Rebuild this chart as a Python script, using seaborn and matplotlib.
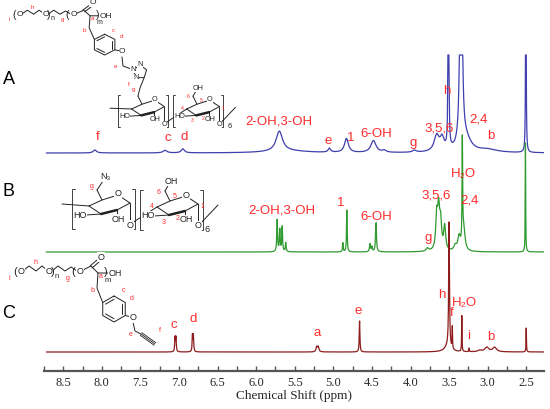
import numpy as np
import pandas as pd
import seaborn as sns
import matplotlib.pyplot as plt

# ---------------- data: peak lists ----------------
# heights are in pixel-like units above each trace's baseline, widths are Lorentzian half-widths (ppm)
A_ppm    = [8.09, 7.18, 6.95, 5.70, 5.60, 5.05, 4.83, 4.48, 4.34, 3.95, 3.66, 3.59, 3.508, 3.345, 3.28, 3.00, 2.505]
A_height = [3.0,  2.5,  4.0,  20.0, 2.0,  4.0,  14.0, 12.0, 2.0,  2.0,  16.0, 12.0, 400.0, 400.0, 12.0, 3.0,  400.0]
A_width  = [0.025,0.03, 0.025,0.05, 0.30, 0.02, 0.03, 0.04, 0.03, 0.03, 0.04, 0.03, 0.004, 0.012, 0.08, 0.15, 0.003]

B_ppm    = [5.728, 5.694, 5.663, 5.617, 4.877, 4.825, 4.525, 4.50, 4.447, 3.78, 3.66, 3.635, 3.61, 3.557, 3.42, 3.37, 3.31, 3.328, 2.51]
B_height = [32.0,  22.0,  25.0,  9.0,   9.0,   42.0,  8.0,   5.0,  29.0,  3.0,  33.0, 38.0,  26.0, 24.0,  5.0,  14.0, 22.0, 117.0, 110.0]
B_width  = [0.006, 0.006, 0.006, 0.006, 0.005, 0.005, 0.007, 0.007,0.007, 0.02, 0.015,0.015, 0.015,0.015, 0.02, 0.02, 0.02, 0.004, 0.003]

C_ppm    = [7.052, 7.040, 6.826, 6.814, 5.215, 5.195, 4.66, 3.52, 3.50, 3.458, 3.335, 3.24, 3.10, 3.01, 2.91, 2.50]
C_height = [14.0,  14.0,  16.0,  16.0,  5.0,   5.0,   31.0, 5.0,  126.0, 22.0, 36.0,  3.5,  1.5,  4.5,  4.5,  24.0]
C_width  = [0.005, 0.005, 0.005, 0.005, 0.01,  0.01,  0.005,0.05, 0.006, 0.003, 0.003, 0.003,0.03, 0.03, 0.03, 0.003]

# peak annotations: (text, ppm, level)
A_labels = [("f", 8.05, 233.7), ("c", 7.15, 232.7), ("d", 6.93, 233.7), ("2-OH,3-OH", 5.70, 250),
            ("e", 5.07, 230.3), ("1", 4.77, 232.7), ("6-OH", 4.45, 237), ("g", 3.97, 228.3),
            ("3,5,6", 3.63, 242.7), ("h", 3.535, 280.3), ("2,4", 3.12, 251), ("b", 2.96, 235)]
B_labels = [("2-OH,3-OH", 5.67, 160.3), ("1", 4.90, 167.7), ("6-OH", 4.45, 154.3), ("g", 3.77, 132.7),
            ("3,5,6", 3.67, 176), ("2,4", 3.23, 170.3), ("H₂O", 3.32, 197)]
C_labels = [("c", 7.07, 46.3), ("d", 6.82, 52.3), ("a", 5.21, 37.7), ("e", 4.68, 59.7), ("h", 3.60, 75.7),
            ("f", 3.47, 57.7), ("H₂O", 3.30, 67.7), ("i", 3.244, 35.3), ("b", 2.96, 34)]

trace_names = ["A", "B", "C"]
trace_colors = ["#3f3fae", "#2f9a2f", "#8e1c1c"]
baselines = [218, 119, 19]          # vertical offsets of the stacked traces
clip_levels = [98, 117, 200]        # traces are cut at the top as in the original

ppm = np.linspace(2.27, 8.72, 8000)

def spectrum(centers, heights, widths):
    y = np.zeros_like(ppm)
    for c, h, w in zip(centers, heights, widths):
        y += h * w**2 / ((ppm - c)**2 + w**2)
    return y

frames = []
for name, (cen, hei, wid), base, clip in zip(
        trace_names,
        [(A_ppm, A_height, A_width), (B_ppm, B_height, B_width), (C_ppm, C_height, C_width)],
        baselines, clip_levels):
    y = np.minimum(spectrum(cen, hei, wid), clip) + base
    frames.append(pd.DataFrame({"ppm": ppm, "intensity": y, "trace": name}))
df = pd.concat(frames, ignore_index=True)

# ---------------- figure ----------------
sns.set_theme(style="white")
plt.rcParams['font.family'] = ['Liberation Sans', 'DejaVu Sans']

fig = plt.figure(figsize=(5.5, 4.09), dpi=100)
ax = fig.add_axes([44/550, 38/409, 500/550, 371/409])

sns.lineplot(data=df, x="ppm", y="intensity", hue="trace", hue_order=trace_names,
             palette=trace_colors, estimator=None, sort=False, linewidth=0.9,
             legend=False, ax=ax)

ax.set_xlim(8.72, 2.27)
ax.set_ylim(0, 371)
ax.set_yticks([])
ax.set_ylabel("")

for s in ["top", "left", "right"]:
    ax.spines[s].set_visible(False)
ax.spines["bottom"].set_color("#555555")
ax.spines["bottom"].set_linewidth(1.6)

ax.set_xticks(np.arange(2.5, 8.51, 0.5))
ax.set_xticks(np.arange(2.5, 8.8, 0.25), minor=True)
ax.set_xticklabels([f"{t:.1f}" for t in np.arange(2.5, 8.51, 0.5)],
                   fontfamily="Liberation Serif", fontsize=9)
ax.tick_params(axis="x", which="both", direction="in", length=3.5, width=1.0,
               color="#555555", bottom=True, pad=4)
ax.set_xlabel("Chemical Shift (ppm)", fontfamily="Liberation Serif", fontsize=9.5, labelpad=1)

red = "#ff2a2a"
for labels in (A_labels, B_labels, C_labels):
    for txt, x, y in labels:
        ax.text(x, y, txt, color=red, fontsize=9.5, ha="center", va="center")

for name, ypx in zip(trace_names, [80, 191, 313]):
    fig.text(9/550, 1 - ypx/409, name, fontsize=13, ha="center", va="center", color="black")

# ---------------- schematic structure drawings (illustrations, pixel frame) ----------------
ov = fig.add_axes([0, 0, 1, 1], zorder=5)
ov.set_xlim(0, 550)
ov.set_ylim(409, 0)
ov.axis("off")
ov.patch.set_alpha(0)
ink = "#222222"

def P(p, org, sx, sy):
    return org[0] + sx * p[0], org[1] + sy * p[1]

def bonds(segs, org, sx, sy, lw=0.7):
    for seg in segs:
        pts = [P(p, org, sx, sy) for p in seg]
        ov.plot([q[0] for q in pts], [q[1] for q in pts], color=ink, lw=lw,
                solid_capstyle="round", solid_joinstyle="round")

def texts(items, org, sx, sy, fs, color=ink, box=True):
    for t, p in items:
        x, y = P(p, org, sx, sy)
        kw = dict(bbox=dict(fc="white", ec="none", pad=0.1)) if box else {}
        ov.text(x, y, t, fontsize=fs, color=color, ha="center", va="center", **kw)

def ring(center, r, org, sx, sy, start_deg, n=6, inner=None):
    ang = np.deg2rad(start_deg + 360 / n * np.arange(n + 1))
    pts = [(center[0] + r * np.cos(a), center[1] - r * np.sin(a)) for a in ang]
    bonds([pts], org, sx, sy)
    if inner:
        for k in inner:
            a0, a1 = pts[k], pts[k + 1]
            q0 = (center[0] + 0.75 * (a0[0] - center[0]), center[1] + 0.75 * (a0[1] - center[1]))
            q1 = (center[0] + 0.75 * (a1[0] - center[0]), center[1] + 0.75 * (a1[1] - center[1]))
            bonds([[q0, q1]], org, sx, sy)
    return [P(p, org, sx, sy) for p in pts]

# polymer chain (PEG-b-polyester with benzyl side group)
chain_bonds = [[(3, -2), (8, -6), (15, -1), (21, -6), (26, -2)],
               [(31, -1), (37, -6), (44, -1), (50, -5), (56, -1)],
               [(62, -2), (70, -6), (77, 1), (87, 1)],
               [(69, -6), (76, -12)], [(71, -4), (78, -10)],
               [(77, 1), (76, 16), (81.7, 30.5)]]
chain_atoms = [("O", (0, 0)), ("O", (28, 0)), ("O", (59, 0)), ("O", (80, -15)), ("OH", (94, 2))]
chain_brackets = [("(", (-6, 0)), (")", (32, 0)), ("(", (52, 0)), (")", (85, 0))]
chain_idx = [("n", (36, 5)), ("m", (87, 9))]
chain_red = [("i", (-12, 6)), ("h", (14, -9)), ("g", (47, 6)), ("a", (80, 4)),
             ("b", (71, 19)), ("c", (102, 19)), ("d", (111, 27))]

def draw_chain(org, sx, sy, fs):
    bonds(chain_bonds, org, sx, sy)
    ring((93, 37), 13, org, sx, sy, 90, inner=[0, 2, 4])
    texts(chain_atoms, org, sx, sy, fs)
    texts(chain_brackets, org, sx, sy, fs + 1.5, box=False)
    texts(chain_idx, org, sx, sy, fs - 1, box=False)
    texts(chain_red, org, sx, sy, fs - 1.5, color=red, box=False)
    bonds([[(104.3, 43.5), (110, 45)]], org, sx, sy)
    texts([("O", (112, 46))], org, sx, sy, fs)

# glucose repeat unit of the cyclodextrin
unit_ring = [[(17, 15), (30, 9), (46, 4), (58, 12)], [(58, 12), (45, 19)], [(29, 23), (17, 15)],
             [(30, 9), (25, -1)], [(29, 23), (14, 24)], [(45, 19), (45, 26)], [(58, 12), (58, 30)]]
unit_front = [[(45, 19), (29, 23)]]
unit_brackets = [[(3, -2), (0, -2), (0, 38), (3, 38)], [(60, -2), (63, -2), (63, 38), (60, 38)]]
unit_atoms = [("O", (46, 3)), ("HO", (8, 24)), ("OH", (46, 28)), ("O", (58, 34))]
unit_numbers = [("6", (19, 0)), ("5", (35, 4)), ("4", (12, 14)), ("3", (24, 30)), ("2", (38, 27)), ("1", (62, 15))]

def draw_unit(org, s, fs, top=None, numbers=False):
    bonds(unit_ring, org, s, s)
    bonds(unit_front, org, s, s, lw=1.8)
    bonds(unit_brackets, org, s, s, lw=0.6)
    texts(unit_atoms, org, s, s, fs)
    if top == "OH":
        bonds([[(25, -1), (29, -8)]], org, s, s)
        texts([("OH", (31, -11))], org, s, s, fs)
    elif top == "N3":
        bonds([[(25, -1), (31, -10)]], org, s, s)
        texts([("N₃", (33, -14))], org, s, s, fs)
    if numbers:
        texts(unit_numbers, org, s, s, fs - 1.5, color=red, box=False)

def link(o1, o2, s, last=False):
    if last:
        bonds([[(60, 32), (78, 13)]], o1, s, s)
    else:
        a = P((60, 32), o1, s, s)
        b = P((17, 15), o2, s, s)
        ov.plot([a[0], b[0]], [a[1], b[1]], color=ink, lw=0.7)

# structure A
orgA = (20, 15)
draw_chain(orgA, 0.91, 0.8, 6)
bonds([[(122, 57), (123, 66), (133.3, 69.8)], [(144, 78), (140, 88), (138, 96)]], (0, 0), 1, 1)
tri = ring((140, 72), 7, (0, 0), 1, 1, 90, n=5)
texts([("N", tri[0]), ("N", tri[1]), ("N", tri[2])], (0, 0), 1, 1, 5.5)
texts([("e", (116, 66)), ("f", (129, 85)), ("g", (134, 90))], (0, 0), 1, 1, 4.5, color=red, box=False)
uA1, uA2 = (118, 97), (173, 97)
draw_unit(uA1, 0.8, 5.2)
draw_unit(uA2, 0.8, 5.2, top="OH", numbers=True)
bonds([[(-10, 14), (17, 15)]], uA1, 0.8, 0.8)
link(uA1, uA2, 0.8)
link(uA2, None, 0.8, last=True)
ov.text(230, 127, "6", fontsize=5.5, color=ink, ha="center", va="center")

# structure B
uB1, uB2 = (72, 191), (140, 192)
draw_unit(uB1, 1.0, 6.5, top="N3")
draw_unit(uB2, 1.0, 6.5, top="OH", numbers=True)
bonds([[(-10, 13), (17, 15)]], uB1, 1, 1)
link(uB1, uB2, 1.0)
link(uB2, None, 1.0, last=True)
ov.text(92, 186, "g", fontsize=5, color=red, ha="center", va="center")
ov.text(207, 229, "6", fontsize=6.5, color=ink, ha="center", va="center")

# structure C
orgC = (21, 272)
draw_chain(orgC, 1.0, 1.0, 6.5)
bonds([[(112, 50), (114, 59), (120, 62)]], orgC, 1, 1)
for d in (-1.6, 0, 1.6):
    bonds([[(120 + d * 0.5, 62 - d * 0.8), (134 + d * 0.5, 72 - d * 0.8)]], orgC, 1, 1, lw=0.6)
texts([("e", (110, 62)), ("f", (139, 59))], orgC, 1, 1, 5, color=red, box=False)

fig.savefig("out.png", dpi=100)
